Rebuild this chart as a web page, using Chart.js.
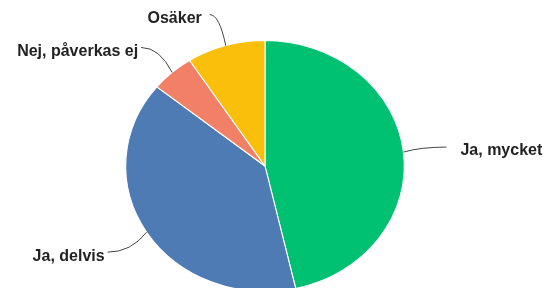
<!DOCTYPE html>
<html>
<head>
<meta charset="utf-8">
<script src="https://cdn.jsdelivr.net/npm/chart.js@4"></script>
<style>
  html, body { margin: 0; padding: 0; background: #fff; }
  #wrap { width: 546px; height: 288px; overflow: hidden; }
</style>
</head>
<body>
<div id="wrap"><canvas id="pie" width="546" height="300"></canvas></div>
<script>
var labels = ["Ja, mycket", "Ja, delvis", "Nej, påverkas ej", "Osäker"];
var values = [46, 39, 5, 9];
var colors = ['#00c171', '#4f7bb5', '#f28066', '#f9bf0a'];

// the reference pie is a little wider than tall
var stretchX = 1.11;

// leader line end offsets from the slice edge, and text gap
var leaders = [
    { dx: 43, dy: -5, gap: 14, align: 'left' },
    { dx: -39, dy: 20, gap: 3, align: 'right' },
    { dx: -31, dy: -25, gap: 3, align: 'right' },
    { dx: -16, dy: -31, gap: 8, align: 'right' }
];

var stretch = {
    id: 'stretch',
    beforeDatasetsDraw: function (chart) {
        var cx = chart.getDatasetMeta(0).data[0].x;
        var ctx = chart.ctx;
        ctx.save();
        ctx.translate(cx, 0);
        ctx.scale(stretchX, 1);
        ctx.translate(-cx, 0);
    },
    afterDatasetsDraw: function (chart) {
        var ctx = chart.ctx;
        ctx.restore();

        var arcs = chart.getDatasetMeta(0).data;
        ctx.save();
        ctx.font = 'bold 16px "Liberation Sans", Arial, sans-serif';
        ctx.fillStyle = '#222';
        ctx.textBaseline = 'middle';
        arcs.forEach(function (arc, i) {
            var a = (arc.startAngle + arc.endAngle) / 2;
            var px = arc.x + Math.cos(a) * arc.outerRadius * stretchX;
            var py = arc.y + Math.sin(a) * arc.outerRadius;
            var l = leaders[i];
            var ex = px + l.dx, ey = py + l.dy;
            ctx.beginPath();
            ctx.strokeStyle = '#444';
            ctx.lineWidth = 1;
            ctx.moveTo(px, py);
            ctx.quadraticCurveTo(px + l.dx * 0.4, ey, ex, ey);
            ctx.stroke();
            ctx.textAlign = l.align;
            var tx = l.align === 'left' ? ex + l.gap : ex - l.gap;
            ctx.fillText(labels[i], tx, ey + 4);
        });
        ctx.restore();
    }
};

var ctx = document.getElementById('pie').getContext('2d');

var chart = new Chart(ctx, {
    type: 'pie',
    data: {
        labels: labels,
        datasets: [{
            data: values,
            backgroundColor: colors,
            borderColor: '#ffffff',
            borderWidth: 1
        }]
    },
    options: {
        responsive: false,
        animation: false,
        layout: {
            padding: { top: 40, bottom: 8, left: 139, right: 155 }
        },
        plugins: {
            legend: { display: false },
            tooltip: { enabled: false }
        }
    },
    plugins: [stretch]
});
</script>
</body>
</html>
